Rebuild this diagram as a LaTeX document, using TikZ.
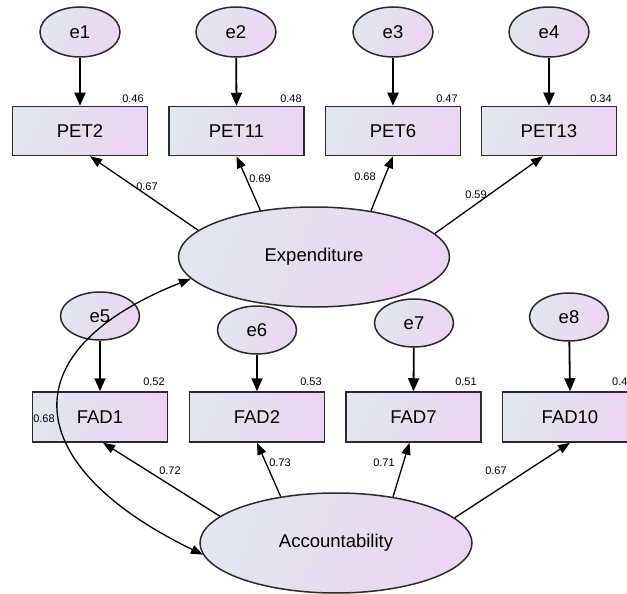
\documentclass[tikz,border=0pt]{standalone}
\usepackage{fontspec}
\setmainfont{Liberation Sans}
\usetikzlibrary{arrows.meta,shapes.geometric}
\definecolor{gradL}{HTML}{E1E6EF}
\definecolor{gradR}{HTML}{ECD5F2}
\definecolor{edgeC}{HTML}{2A2A2A}
\tikzset{
  fillgrad/.style={left color=gradL, right color=gradR, shading angle=70},
  errnode/.style={ellipse, draw=edgeC, line width=1.5pt, fillgrad, minimum width=80pt, minimum height=50pt, inner sep=0pt, font=\fontsize{18.5}{21}\selectfont},
  latnode/.style={ellipse, draw=edgeC, line width=1.5pt, fillgrad, minimum width=271pt, minimum height=100pt, inner sep=0pt, font=\fontsize{18.5}{21}\selectfont},
  obsnode/.style={rectangle, draw=edgeC, line width=1.5pt, fillgrad, minimum width=135pt, minimum height=49pt, inner sep=0pt, font=\fontsize{18.5}{21}\selectfont},
  numlab/.style={font=\fontsize{11}{13}\selectfont, inner sep=0pt},
  errarrow/.style={draw=black, line width=1.8pt, -{Triangle[length=13pt,width=11pt]}},
  loadarrow/.style={draw=black, line width=1.3pt, -{Triangle[length=12pt,width=9pt]}},
  covarrow/.style={draw=black, line width=1.3pt, {Triangle[length=12pt,width=9pt]}-{Triangle[length=12pt,width=9pt]}},
}
\begin{document}
\begin{tikzpicture}[x=1pt,y=-1pt]
\useasboundingbox (0,0) rectangle (627,594);
\clip (0,0) rectangle (627,594);
% error terms top
\node[errnode] (e1) at (80,32) {e1};
\node[errnode] (e2) at (236,32) {e2};
\node[errnode] (e3) at (393,32) {e3};
\node[errnode] (e4) at (549,32) {e4};
% PET boxes
\node[obsnode] (pet2) at (80,131) {PET2};
\node[obsnode] (pet11) at (236.5,131) {PET11};
\node[obsnode] (pet6) at (393,131) {PET6};
\node[obsnode] (pet13) at (549,131) {PET13};
% latent
\node[latnode] (exp) at (314,257) {Expenditure};
\node[latnode, minimum width=272pt] (acc) at (336,543) {Accountability};
% error terms bottom
\node[errnode, minimum width=79pt, minimum height=48pt] (e5) at (100,316) {e5};
\node[errnode, minimum width=79pt, minimum height=48pt] (e6) at (257,330) {e6};
\node[errnode, minimum width=79pt, minimum height=48pt] (e7) at (414,323) {e7};
\node[errnode, minimum width=79pt, minimum height=48pt] (e8) at (569,317) {e8};
% FAD boxes
\node[obsnode, minimum height=50pt] (fad1) at (100,417) {FAD1};
\node[obsnode, minimum height=50pt] (fad2) at (257,417) {FAD2};
\node[obsnode, minimum height=50pt] (fad7) at (413.5,417) {FAD7};
\node[obsnode, minimum height=50pt] (fad10) at (570,417) {FAD10};
% error arrows
\draw[errarrow] (e1) -- (pet2.north);
\draw[errarrow] (e2) -- (pet11.north);
\draw[errarrow] (e3) -- (pet6.north);
\draw[errarrow] (e4) -- (pet13.north);
\draw[errarrow] (e5) -- (fad1.north);
\draw[errarrow] (e6) -- (fad2.north);
\draw[errarrow] (e7) -- (fad7.north);
\draw[errarrow] (e8) -- (fad10.north);
% loadings Expenditure
\draw[loadarrow] (exp.167.8) -- ([xshift=10pt]pet2.south);
\draw[loadarrow] (exp.139.5) -- (pet11.south);
\draw[loadarrow] (exp.39) -- (pet6.south);
\draw[loadarrow] (exp.11.9) -- ([xshift=-6pt]pet13.south);
% loadings Accountability
\draw[loadarrow] (acc.167) -- ([xshift=3pt]fad1.south);
\draw[loadarrow] (acc.140.6) -- (fad2.south);
\draw[loadarrow] (acc.39.9) -- ([xshift=-4pt]fad7.south);
\draw[loadarrow] (acc.12.9) -- (fad10.south);
% covariance
\draw[covarrow] (exp.190.7) .. controls (6,352) and (22,467) .. (acc.185);
% R-squared labels
\node[numlab] (r1) at (133,99) {0.46};
\node[numlab] (r2) at (291,99) {0.48};
\node[numlab] (r3) at (447,99) {0.47};
\node[numlab] (r4) at (601,99) {0.34};
\node[numlab] (r5) at (154,382) {0.52};
\node[numlab] (r6) at (311,382) {0.53};
\node[numlab] (r7) at (466,382) {0.51};
\node[numlab, anchor=west] (r8) at (612,382) {0.4};
% loading labels
\node[numlab] (l1) at (147,187) {0.67};
\node[numlab] (l2) at (260,179) {0.69};
\node[numlab] (l3) at (365,177) {0.68};
\node[numlab] (l4) at (476,195) {0.59};
\node[numlab] (l5) at (170,471) {0.72};
\node[numlab] (l6) at (280,463) {0.73};
\node[numlab] (l7) at (384,463) {0.71};
\node[numlab] (l8) at (496,471) {0.67};
\node[numlab] (cv) at (44,419) {0.68};
\end{tikzpicture}
\end{document}
